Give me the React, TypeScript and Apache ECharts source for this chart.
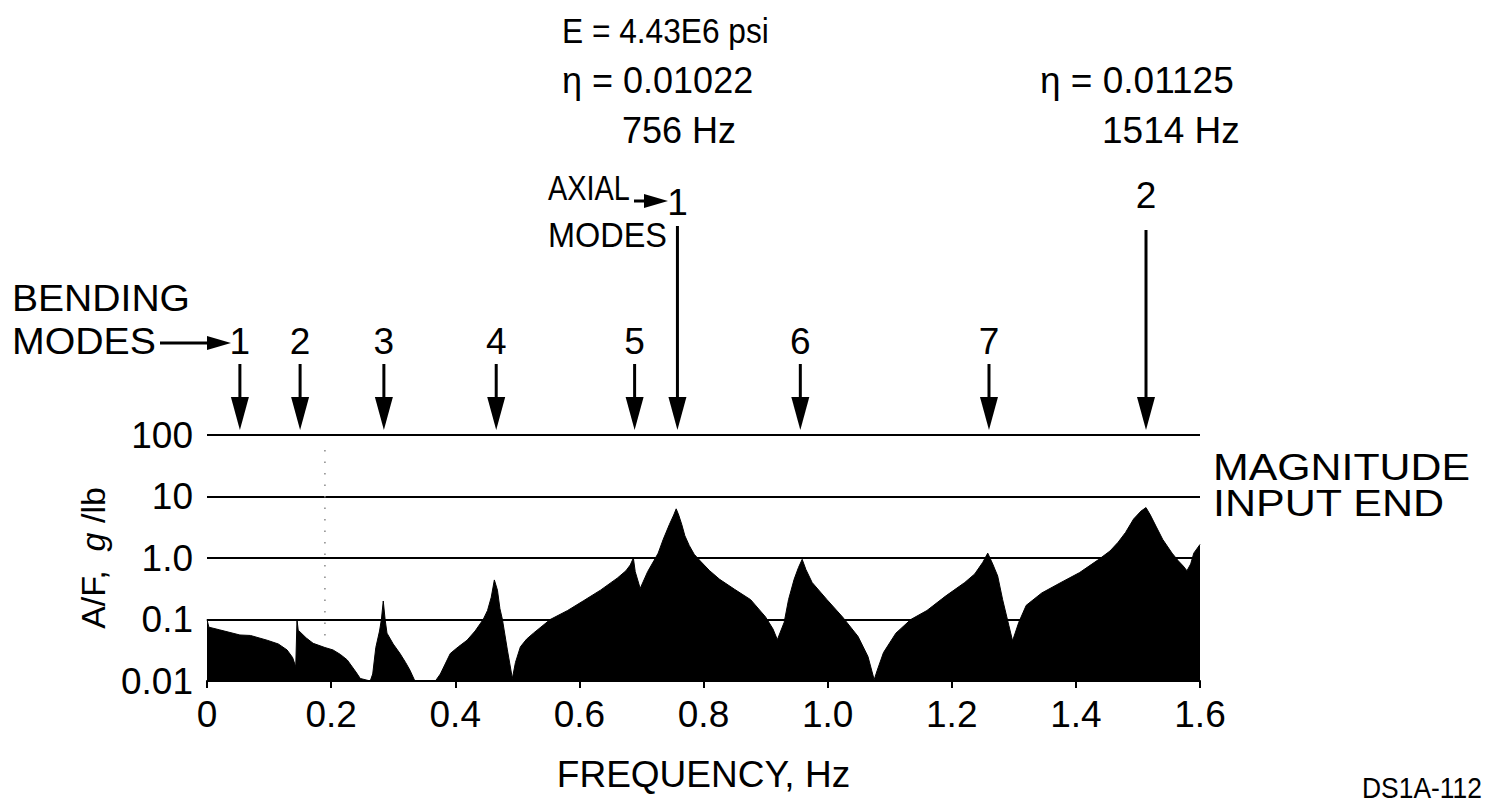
import React, { useEffect, useRef } from "react";
import * as echarts from "echarts";

// Frequency (axis units as labelled) and A/F magnitude
const freq = [
  0.0, 0.003, 0.02, 0.053, 0.07, 0.097, 0.115, 0.129, 0.138, 0.143, 0.145, 0.147, 0.16, 0.171, 0.19,
  0.203, 0.215, 0.226, 0.24, 0.247, 0.263, 0.267, 0.272, 0.278, 0.281, 0.284, 0.287, 0.29, 0.3,
  0.311, 0.32, 0.327, 0.335, 0.368, 0.376, 0.392, 0.405, 0.419, 0.432, 0.445, 0.452, 0.458, 0.463,
  0.468, 0.472, 0.476, 0.484, 0.492, 0.497, 0.505, 0.515, 0.526, 0.553, 0.581, 0.606, 0.634, 0.661,
  0.675, 0.682, 0.687, 0.69, 0.698, 0.71, 0.72, 0.727, 0.735, 0.745, 0.752, 0.756, 0.76, 0.765,
  0.77, 0.777, 0.785, 0.795, 0.81, 0.826, 0.85, 0.876, 0.9, 0.912, 0.919, 0.93, 0.937, 0.946,
  0.953, 0.959, 0.965, 0.975, 0.999, 1.024, 1.049, 1.065, 1.075, 1.08, 1.09, 1.11, 1.134, 1.16,
  1.19, 1.221, 1.237, 1.25, 1.258, 1.266, 1.274, 1.282, 1.292, 1.298, 1.308, 1.32, 1.345, 1.376,
  1.406, 1.437, 1.455, 1.468, 1.48, 1.493, 1.505, 1.513, 1.52, 1.529, 1.54, 1.555, 1.565, 1.573,
  1.579, 1.585, 1.59, 1.6,
];
const amplitude = [
  0.1, 0.075, 0.068, 0.056, 0.055, 0.046, 0.04, 0.032, 0.024, 0.017, 0.1, 0.067, 0.05, 0.041, 0.035,
  0.032, 0.027, 0.022, 0.014, 0.011, 0.01, 0.013, 0.035, 0.065, 0.1, 0.2, 0.1, 0.06, 0.04,
  0.028, 0.02, 0.015, 0.01, 0.01, 0.013, 0.028, 0.036, 0.046, 0.065, 0.1, 0.14, 0.23, 0.44,
  0.3, 0.15, 0.1, 0.032, 0.011, 0.02, 0.036, 0.048, 0.06, 0.1, 0.14, 0.2, 0.3, 0.47,
  0.62, 0.77, 1.0, 0.6, 0.32, 0.6, 0.9, 1.2, 2.0, 3.5, 5.0, 6.3, 5.0, 3.5,
  2.3, 1.6, 1.15, 0.89, 0.62, 0.45, 0.31, 0.21, 0.11, 0.07, 0.047, 0.09, 0.21, 0.45,
  0.7, 0.95, 0.65, 0.4, 0.21, 0.11, 0.053, 0.025, 0.0105, 0.015, 0.029, 0.06, 0.1, 0.14,
  0.24, 0.4, 0.55, 0.85, 1.2, 0.8, 0.51, 0.21, 0.08, 0.045, 0.09, 0.17, 0.27, 0.4,
  0.58, 0.95, 1.3, 1.8, 2.6, 4.3, 5.8, 6.6, 5.0, 3.3, 2.0, 1.2, 0.9, 0.74,
  0.62, 0.8, 1.2, 1.66,
];

const xTickLabels = ["0", "0.2", "0.4", "0.6", "0.8", "1.0", "1.2", "1.4", "1.6"];
const yTickLabels = ["0.01", "0.1", "1.0", "10", "100"];

const bendingModeFreqs = [0.053, 0.15, 0.285, 0.466, 0.689, 0.956, 1.26];
const bendingModeLabels = ["1", "2", "3", "4", "5", "6", "7"];
const axialModeFreqs = [0.758, 1.513];
const axialModeLabels = ["1", "2"];

const headerAxial1 = ["E = 4.43E6 psi", "η = 0.01022", "756 Hz"];
const headerAxial2 = ["η = 0.01125", "1514 Hz"];
const bendingTitle = ["BENDING", "MODES"];
const axialTitle = ["AXIAL", "MODES"];
const sideLabel = ["MAGNITUDE", "INPUT END"];
const figureId = "DS1A-112";

const FONT = "'Liberation Sans', Arial, Helvetica, sans-serif";
const FS = 37;

export default function App() {
  const ref = useRef<HTMLDivElement>(null);

  useEffect(() => {
    if (!ref.current) return;
    const chart = echarts.init(ref.current, undefined, { renderer: "svg" });
    const txt = { color: "#000", fontFamily: FONT, fontSize: FS };

    chart.setOption({
      animation: false,
      backgroundColor: "#fff",
      grid: { left: 207, right: 287, top: 435, bottom: 123, containLabel: false },
      xAxis: {
        type: "value",
        min: 0,
        max: 1.6,
        interval: 0.2,
        axisLine: { show: true, lineStyle: { color: "#000", width: 2 } },
        axisTick: { show: true, length: 7, lineStyle: { color: "#000", width: 2 } },
        axisLabel: {
          ...txt,
          margin: 15,
          formatter: (v: number) => xTickLabels[Math.round(v / 0.2)] ?? "",
        },
        splitLine: { show: false },
        name: "FREQUENCY, Hz",
        nameLocation: "middle",
        nameGap: 75,
        nameTextStyle: { ...txt },
      },
      yAxis: {
        type: "log",
        logBase: 10,
        min: 0.01,
        max: 100,
        axisLine: { show: false },
        axisTick: { show: false },
        axisLabel: {
          ...txt,
          margin: 14,
          formatter: (v: number) => yTickLabels[Math.round(Math.log10(v)) + 2] ?? "",
        },
        splitLine: { show: true, lineStyle: { color: "#000", width: 2 } },
        name: "A/F,  {i|g} /lb",
        nameLocation: "middle",
        nameRotate: 90,
        nameGap: 94,
        nameTextStyle: {
          ...txt,
          fontSize: 34,
          rich: { i: { fontStyle: "italic", fontSize: 34, fontFamily: FONT, color: "#000" } },
        },
      },
      series: [
        {
          type: "line",
          data: freq.map((f, i) => [f, amplitude[i]]),
          showSymbol: false,
          lineStyle: { color: "#000", width: 1 },
          areaStyle: { color: "#000", opacity: 1, origin: "start" },
        },
      ],
    });

    const ctx = document.createElement("canvas").getContext("2d")!;
    const measure = (s: string, fs: number) => {
      ctx.font = `${fs}px ${FONT}`;
      return ctx.measureText(s).width;
    };

    const P = (f: number, v: number) => chart.convertToPixel({ gridIndex: 0 }, [f, v]) as number[];
    const topY = P(0, 100)[1];
    const tipY = topY - 5;
    const g: any[] = [];
    const text = (s: string, x: number, y: number, align = "left", fs = FS, scaleX = 1) => ({
      type: "text",
      x,
      y,
      scaleX,
      style: { text: s, fill: "#000", font: `${fs}px ${FONT}`, align, verticalAlign: "middle" },
    });
    // text fitted into a horizontal span [x0, x1]
    const fitText = (s: string, x0: number, x1: number, y: number, fs = FS) => ({
      type: "text",
      x: x0,
      y,
      scaleX: (x1 - x0) / measure(s, fs),
      style: { text: s, fill: "#000", font: `${fs}px ${FONT}`, align: "left", verticalAlign: "middle" },
    });
    const downArrow = (x: number, y0: number) => {
      g.push({ type: "line", shape: { x1: x, y1: y0, x2: x, y2: tipY - 28 }, style: { stroke: "#000", lineWidth: 3 } });
      g.push({ type: "polygon", shape: { points: [[x - 9, tipY - 33], [x + 9, tipY - 33], [x, tipY]] }, style: { fill: "#000" } });
    };
    const rightArrow = (x0: number, x1: number, y: number) => {
      g.push({ type: "line", shape: { x1: x0, y1: y, x2: x1 - 18, y2: y }, style: { stroke: "#000", lineWidth: 3 } });
      g.push({ type: "polygon", shape: { points: [[x1 - 24, y - 7], [x1 - 24, y + 7], [x1, y]] }, style: { fill: "#000" } });
    };

    bendingModeFreqs.forEach((f, i) => {
      const x = P(f, 100)[0];
      g.push(text(bendingModeLabels[i], x, 341, "center"));
      downArrow(x, 364);
    });
    axialModeFreqs.forEach((f, i) => {
      const x = P(f, 100)[0];
      g.push(text(axialModeLabels[i], x, i === 0 ? 202 : 195, "center"));
      downArrow(x, i === 0 ? 226 : 230);
    });

    g.push(fitText(bendingTitle[0], 12, 190, 298));
    g.push(fitText(bendingTitle[1], 12, 156, 341));
    rightArrow(160, 231, 343);
    g.push(fitText(axialTitle[0], 548, 630, 188, 35));
    g.push(fitText(axialTitle[1], 548, 667, 235, 35));
    rightArrow(634, 668, 201);

    const h1Left = [562, 562, 622];
    const h1Scale = [0.88, 1, 1];
    headerAxial1.forEach((s, i) => g.push(text(s, h1Left[i], 30 + i * 50, "left", 36, h1Scale[i])));
    const h2Left = [1040, 1102];
    headerAxial2.forEach((s, i) => g.push(text(s, h2Left[i], 80 + i * 50, "left", 37)));
    const sideSpans = [[1213, 1470], [1213, 1445]];
    sideLabel.forEach((s, i) => g.push(fitText(s, sideSpans[i][0], sideSpans[i][1], 467 + i * 37)));
    g.push({
      type: "text",
      x: 1362,
      y: 802,
      scaleX: (1482 - 1362) / measure(figureId, 30),
      style: { text: figureId, fill: "#000", font: `30px ${FONT}`, align: "left", verticalAlign: "bottom" },
    });

    const dotX = P(0.19, 100)[0];
    g.push({
      type: "line",
      shape: { x1: dotX, y1: 450, x2: dotX, y2: 640 },
      style: { stroke: "#888", lineWidth: 1.5, lineDash: [1.5, 10] },
    });

    chart.setOption({ graphic: g });

    return () => chart.dispose();
  }, []);

  return (
    <div
      ref={ref}
      style={{ position: "fixed", left: 0, top: 0, width: 1487, height: 804, background: "#fff" }}
    />
  );
}
